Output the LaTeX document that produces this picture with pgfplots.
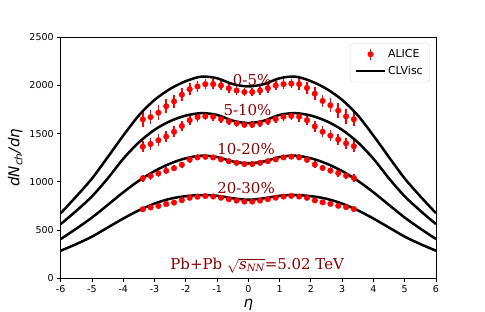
\documentclass[border=0pt]{standalone}
\usepackage{fontspec}
\setmainfont{DejaVu Sans}
\newfontfamily\serifdv{DejaVu Serif}
\usepackage{pgfplots}
\pgfplotsset{compat=1.18}
\usepackage{pgfplotstable}
\definecolor{dred}{HTML}{8B0000}

\pgfplotstableread{
x y e
-3.375 1649 75
-3.125 1672 75
-2.875 1718 75
-2.625 1785 75
-2.375 1835 65
-2.125 1905 65
-1.875 1962 60
-1.625 1990 60
-1.375 2014 50
-1.125 2014 50
-0.875 2000 45
-0.625 1972 45
-0.375 1948 45
-0.125 1932 45
0.125 1932 45
0.375 1948 45
0.625 1972 45
0.875 2000 45
1.125 2014 50
1.375 2020 50
1.625 2014 60
1.875 1975 60
2.125 1915 65
2.375 1840 65
2.625 1795 75
2.875 1740 75
3.125 1680 75
3.375 1650 75
}\dataA
\pgfplotstableread{
x y e
-3.375 1365 60
-3.125 1393 60
-2.875 1432 60
-2.625 1470 60
-2.375 1520 55
-2.125 1580 55
-1.875 1640 50
-1.625 1672 50
-1.375 1680 42
-1.125 1676 42
-0.875 1652 38
-0.625 1628 38
-0.375 1608 38
-0.125 1592 38
0.125 1592 38
0.375 1608 38
0.625 1628 38
0.875 1652 38
1.125 1676 42
1.375 1684 42
1.625 1676 50
1.875 1640 50
2.125 1575 55
2.375 1520 55
2.625 1480 60
2.875 1440 60
3.125 1400 60
3.375 1370 60
}\dataB
\pgfplotstableread{
x y e
-3.375 1037 38
-3.125 1062 38
-2.875 1088 38
-2.625 1115 38
-2.375 1142 33
-2.125 1178 33
-1.875 1232 32
-1.625 1254 32
-1.375 1260 28
-1.125 1254 28
-0.875 1234 27
-0.625 1215 27
-0.375 1198 27
-0.125 1185 27
0.125 1185 27
0.375 1198 27
0.625 1215 27
0.875 1234 27
1.125 1254 28
1.375 1262 28
1.625 1254 32
1.875 1230 32
2.125 1180 33
2.375 1145 33
2.625 1118 38
2.875 1092 38
3.125 1065 38
3.375 1040 38
}\dataC
\pgfplotstableread{
x y e
-3.375 716 24
-3.125 735 24
-2.875 750 24
-2.625 770 24
-2.375 785 20
-2.125 810 20
-1.875 835 20
-1.625 846 20
-1.375 853 17
-1.125 848 17
-0.875 836 17
-0.625 820 17
-0.375 806 17
-0.125 796 17
0.125 796 17
0.375 806 17
0.625 820 17
0.875 836 17
1.125 848 17
1.375 855 17
1.625 848 20
1.875 835 20
2.125 808 20
2.375 788 20
2.625 772 24
2.875 752 24
3.125 738 24
3.375 718 24
}\dataD

\pgfplotstableread{
x a b c d
-6 675 562 407 286
-5.5 850 700 515 355
-5 1035 850 630 432
-4.5 1255 1035 760 526
-4 1480 1240 892 620
-3.5 1690 1410 1012 705
-3 1850 1540 1112 775
-2.5 1965 1630 1190 825
-2 2045 1688 1245 852
-1.5 2092 1713 1272 864
-1 2075 1695 1258 856
-0.5 2015 1635 1212 830
0 1990 1610 1193 815
0.5 2015 1635 1212 830
1 2075 1695 1258 856
1.5 2092 1713 1272 864
2 2045 1688 1245 852
2.5 1965 1630 1190 825
3 1850 1540 1112 775
3.5 1690 1410 1012 705
4 1480 1240 892 620
4.5 1255 1035 760 526
5 1035 850 630 432
5.5 850 700 515 355
6 675 562 407 286
}\curves

\begin{document}
\begin{tikzpicture}
\useasboundingbox (-60.7pt,-33.7pt) rectangle (424.3pt,278.3pt);
\begin{axis}[
  at={(0pt,0pt)}, anchor=south west,
  width=375.3pt, height=241pt, scale only axis,
  xmin=-6, xmax=6, ymin=0, ymax=2500,
  xtick={-6,-5,-4,-3,-2,-1,0,1,2,3,4,5,6},
  xticklabels={-6,-5,-4,-3,-2,-1,0,1,2,3,4,5,6},
  ytick={0,500,1000,1500,2000,2500},
  yticklabels={0,500,1000,1500,2000,2500},
  tick pos=left, tick align=outside,
  major tick length=3.5pt,
  every tick/.style={black, line width=0.8pt},
  axis line style={line width=0.8pt},
  ticklabel style={font=\fontsize{9.5}{11}\selectfont},
  xlabel={\fontsize{15}{17}\selectfont\itshape η},
  ylabel={\fontsize{15}{17}\selectfont\itshape dN\textsubscript{ch}/dη},
  legend style={at={(0.984,0.975)}, anchor=north east, draw=black!15,
    rounded corners=2.5pt, font=\fontsize{11}{13}\selectfont,
    inner xsep=5pt, inner ysep=4pt, row sep=3pt},
  legend cell align=left,
  clip=false,
]
\addplot[red, only marks, mark=*, mark size=2.8pt,
  legend image code/.code={\draw[red, line width=1.6pt] (0.5cm,-5.5pt) -- (0.5cm,5.5pt); \fill[red] (0.5cm,0cm) circle (2.8pt);},
  error bars/.cd, y dir=both, y explicit, error mark=none,
  error bar style={line width=1.6pt, red}]
  table[x=x, y=y, y error=e]{\dataA};
\addlegendentry{ALICE}
\addplot[black, line width=2.5pt, smooth, legend image code/.code={\draw[black,line width=2.5pt] (0cm,0cm) -- (1.0cm,0cm);}] table[x=x, y=a]{\curves};
\addlegendentry{CLVisc}
\addplot[red, only marks, mark=*, mark size=2.8pt, forget plot,
  error bars/.cd, y dir=both, y explicit, error mark=none,
  error bar style={line width=1.6pt, red}]
  table[x=x, y=y, y error=e]{\dataB};
\addplot[red, only marks, mark=*, mark size=2.8pt, forget plot,
  error bars/.cd, y dir=both, y explicit, error mark=none,
  error bar style={line width=1.6pt, red}]
  table[x=x, y=y, y error=e]{\dataC};
\addplot[red, only marks, mark=*, mark size=2.8pt, forget plot,
  error bars/.cd, y dir=both, y explicit, error mark=none,
  error bar style={line width=1.6pt, red}]
  table[x=x, y=y, y error=e]{\dataD};
\addplot[black, line width=2.5pt, smooth, forget plot] table[x=x, y=b]{\curves};
\addplot[black, line width=2.5pt, smooth, forget plot] table[x=x, y=c]{\curves};
\addplot[black, line width=2.5pt, smooth, forget plot] table[x=x, y=d]{\curves};
\node[anchor=base west, inner sep=0pt, text=dred, font=\serifdv\fontsize{15}{17}\selectfont] at (axis cs:-0.5,2000) {0-5\%};
\node[anchor=base west, inner sep=0pt, text=dred, font=\serifdv\fontsize{15}{17}\selectfont] at (axis cs:-0.8,1690) {5-10\%};
\node[anchor=base west, inner sep=0pt, text=dred, font=\serifdv\fontsize{15}{17}\selectfont] at (axis cs:-1.0,1280) {10-20\%};
\node[anchor=base west, inner sep=0pt, text=dred, font=\serifdv\fontsize{15}{17}\selectfont] at (axis cs:-1.0,880) {20-30\%};
\node[anchor=base west, inner sep=0pt, text=dred, font=\serifdv\fontsize{15}{17}\selectfont] at (axis cs:-2.5,90) {Pb+Pb $\sqrt{\mbox{\serifdv\itshape s}_{\mbox{\serifdv\itshape\fontsize{10}{12}\selectfont NN}}}$=5.02 TeV};
\end{axis}
\end{tikzpicture}
\end{document}
